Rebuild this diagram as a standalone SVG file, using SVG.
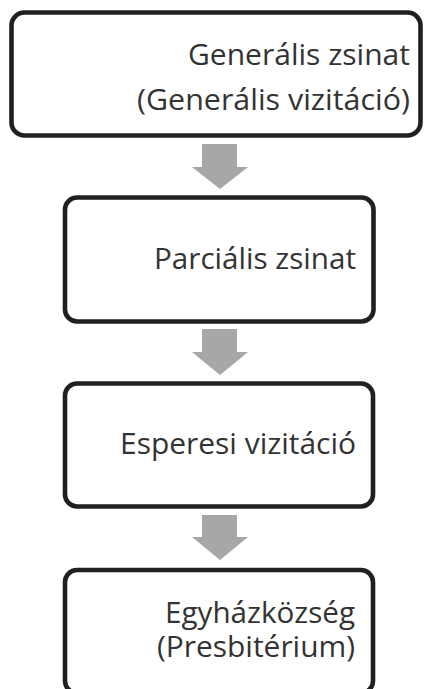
<svg xmlns="http://www.w3.org/2000/svg" width="426" height="689" viewBox="0 0 426 689">
<style>
.box{fill:#ffffff;stroke:#231f20;stroke-width:4.6}
.lbl{font-family:"Open Sans","Liberation Sans",sans-serif;font-size:30px;fill:#333333;text-anchor:end}
.arr{fill:#a7a7aa}
</style>
<rect width="426" height="689" fill="#ffffff"/>
<g id="connectors">
<path class="arr" d="M202,144 H237 V167 H248 L220,189 L192,167 H202 Z"/>
<path class="arr" d="M202,329 H237 V352 H248 L220,375 L192,352 H202 Z"/>
<path class="arr" d="M202,515 H237 V537 H248 L220,560 L192,537 H202 Z"/>
</g>
<g id="node-generalis">
<rect class="box" x="11.5" y="12.5" width="409" height="123" rx="13"/>
<text class="lbl" x="410" y="65" textLength="222" lengthAdjust="spacingAndGlyphs">Generális zsinat</text>
<text class="lbl" x="410" y="110" textLength="273" lengthAdjust="spacingAndGlyphs">(Generális vizitáció)</text>
</g>
<g id="node-parcialis">
<rect class="box" x="65" y="197.5" width="308.5" height="124" rx="12"/>
<text class="lbl" x="356" y="269" textLength="202" lengthAdjust="spacingAndGlyphs">Parciális zsinat</text>
</g>
<g id="node-esperesi">
<rect class="box" x="65" y="383.5" width="308" height="123" rx="12"/>
<text class="lbl" x="356" y="454" textLength="236" lengthAdjust="spacingAndGlyphs">Esperesi vizitáció</text>
</g>
<g id="node-egyhazkozseg">
<rect class="box" x="65" y="570" width="308" height="123" rx="12"/>
<text class="lbl" x="355" y="623" textLength="190" lengthAdjust="spacingAndGlyphs">Egyházközség</text>
<text class="lbl" x="355" y="657" textLength="198" lengthAdjust="spacingAndGlyphs">(Presbitérium)</text>
</g>
</svg>
